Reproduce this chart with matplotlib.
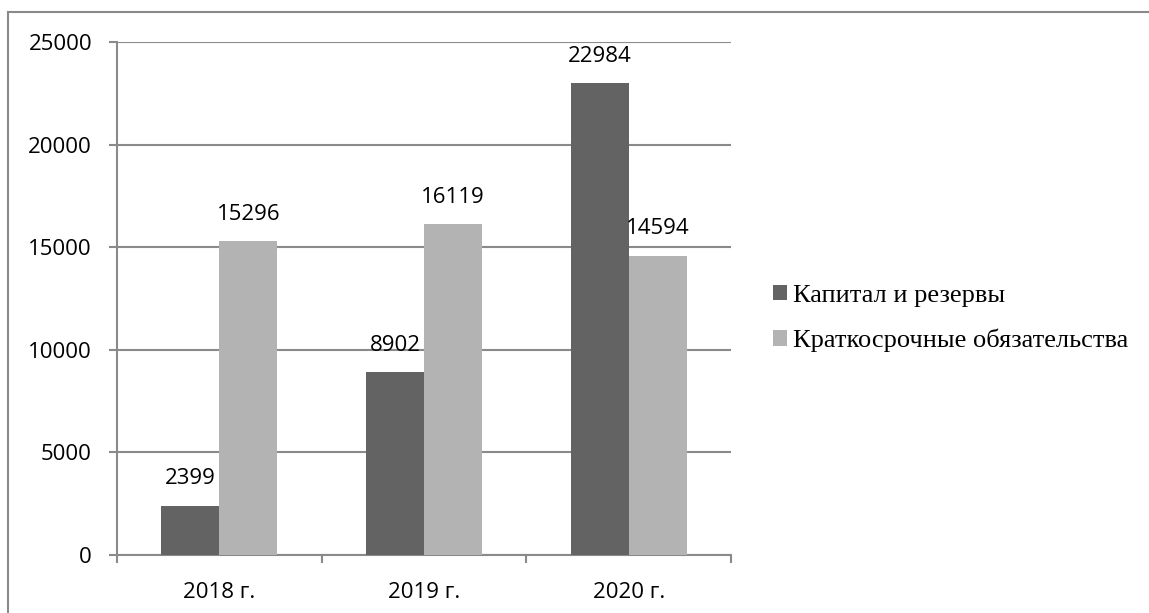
import matplotlib.pyplot as plt
import numpy as np
from matplotlib.lines import Line2D

years = ["2018 г.", "2019 г.", "2020 г."]
kapital = [2399, 8902, 22984]
kratko = [15296, 16119, 14594]
names = ["Капитал и резервы", "Краткосрочные обязательства"]

dark = "#636363"
light = "#b3b3b3"
grey = "#8a8a8a"

fig = plt.figure(figsize=(11.49, 6.13), dpi=100)
ax = fig.add_axes([117/1149, 1-555/613, (731-117)/1149, (555-42)/613])

x = np.arange(len(years))
w = 0.283
b1 = ax.bar(x - w/2, kapital, w, color=dark, label=names[0], zorder=3)
b2 = ax.bar(x + w/2, kratko, w, color=light, label=names[1], zorder=3)

for bars in (b1, b2):
    for r in bars:
        ax.annotate(str(int(r.get_height())), (r.get_x() + r.get_width()/2, r.get_height()),
                    xytext=(0, 19.5), textcoords="offset points", ha="center", va="center",
                    fontsize=16, family="Open Sans", zorder=4)

ax.set_xlim(-0.5, 2.5)
ax.set_ylim(0, 25000)
ax.set_yticks(range(0, 25001, 5000))
ax.yaxis.grid(True, color=grey, linewidth=1.5, zorder=0)
ax.set_axisbelow(True)

ax.set_xticks(x)
ax.set_xticklabels(years)
ax.set_xticks([-0.5, 0.5, 1.5, 2.5], minor=True)
ax.tick_params(axis="x", which="major", length=0, pad=19.5, labelsize=16)
ax.tick_params(axis="x", which="minor", length=6, width=1.5, color=grey, direction="out")
ax.tick_params(axis="y", length=6, width=1.5, color=grey, pad=12, labelsize=16)
for lab in ax.get_xticklabels() + ax.get_yticklabels():
    lab.set_family("Open Sans")

for s in ["top", "right"]:
    ax.spines[s].set_visible(False)
for s in ["left", "bottom"]:
    ax.spines[s].set_color(grey)
    ax.spines[s].set_linewidth(1.5)

leg = fig.legend(loc="center left", bbox_to_anchor=(773/1149, 1-318.5/613), frameon=False,
                 prop={"family": "Liberation Serif", "size": 19},
                 handlelength=0.53, handleheight=0.53, handletextpad=0.22,
                 labelspacing=0.84, borderpad=0, borderaxespad=0)

# outer frame
fig.add_artist(Line2D([8/1149, 8/1149], [0, 1-12/613], color=grey, linewidth=1.5, transform=fig.transFigure))
fig.add_artist(Line2D([8/1149, 1], [1-12/613, 1-12/613], color=grey, linewidth=1.5, transform=fig.transFigure))

fig.savefig("out.png", dpi=100)
